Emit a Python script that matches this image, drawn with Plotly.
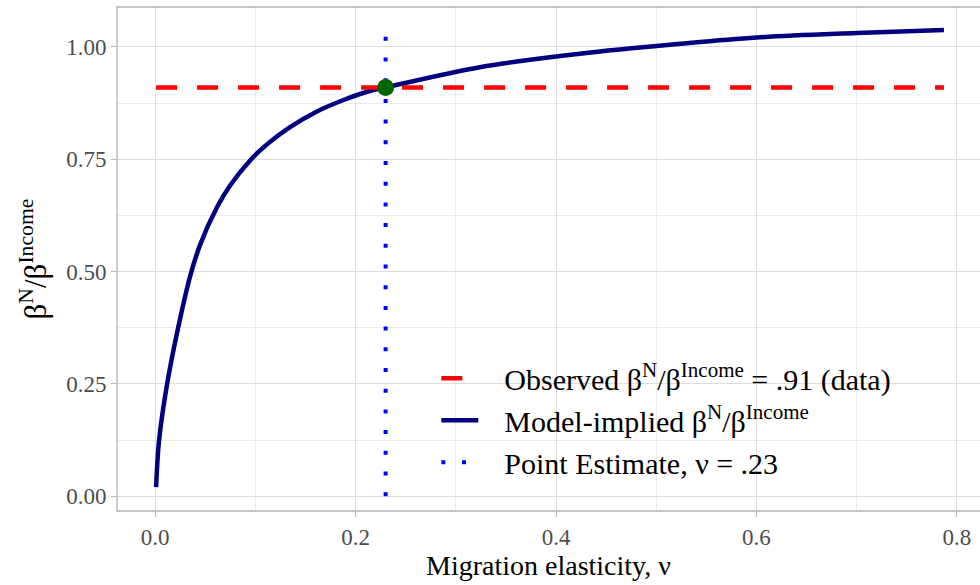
import plotly.graph_objects as go

# Model-implied ratio of coefficients along the migration elasticity
nu = [0.001, 0.004, 0.012, 0.023, 0.035, 0.045, 0.0615, 0.075, 0.095, 0.111,
      0.135, 0.161, 0.188, 0.214, 0.230, 0.324, 0.424, 0.524, 0.600, 0.700,
      0.787]
ratio = [0.020, 0.125, 0.250, 0.375, 0.490, 0.560, 0.642, 0.692, 0.748, 0.782,
         0.822, 0.856, 0.882, 0.902, 0.910, 0.955, 0.985, 1.007, 1.021, 1.031,
         1.038]

observed_ratio = 0.91
nu_estimate = 0.23

x_ticks = [0.0, 0.2, 0.4, 0.6, 0.8]
x_tick_text = ["0.0", "0.2", "0.4", "0.6", "0.8"]
y_ticks = [0.0, 0.25, 0.5, 0.75, 1.0]
y_tick_text = ["0.00", "0.25", "0.50", "0.75", "1.00"]

ratio_label = "β<sup>N</sup>/β<sup>Income</sup>"
FONT = "Liberation Serif"
GAP = "\u2002\u2009"  # space between legend key and label

fig = go.Figure()

fig.add_trace(go.Scatter(
    x=nu, y=ratio, mode="lines",
    line=dict(color="#000080", width=4.5, shape="spline", smoothing=1.0),
    name=GAP + "Model-implied " + ratio_label, legendrank=2,
))
fig.add_trace(go.Scatter(
    x=[nu[0], nu[-1]], y=[observed_ratio, observed_ratio], mode="lines",
    line=dict(color="#FF0000", width=4.5, dash="21px,20px"),
    name=GAP + "Observed " + ratio_label + " = .91 (data)", legendrank=1,
))
fig.add_trace(go.Scatter(
    x=[nu_estimate, nu_estimate], y=[0, max(ratio)], mode="lines",
    line=dict(color="#0000FF", width=4, dash="4px,16.7px"),
    name=GAP + "Point Estimate, ν = .23", legendrank=3,
))
fig.add_trace(go.Scatter(
    x=[nu_estimate], y=[observed_ratio], mode="markers",
    marker=dict(color="#006400", size=17),
    showlegend=False,
))

# panel border (right edge runs past the page)
fig.add_shape(type="rect", xref="paper", yref="paper",
              x0=0, x1=1.05, y0=0, y1=1,
              line=dict(color="#B3B3B3", width=1.3), layer="above")

grid = "#DEDEDE"
fig.update_xaxes(
    range=[-0.038, 0.823], tickvals=x_ticks, ticktext=x_tick_text,
    showgrid=True, gridcolor=grid, gridwidth=1.2, zeroline=False,
    minor=dict(dtick=0.1, tick0=0, showgrid=True, gridcolor="#EBEBEB",
               gridwidth=0.8, ticklen=0),
    ticks="outside", ticklen=5, tickcolor="#B3B3B3", tickwidth=1.2,
    tickfont=dict(family=FONT, size=23, color="#4D4D4D"),
    title=dict(text="Migration elasticity, ν", standoff=6,
               font=dict(family=FONT, size=28, color="#000000")),
)
fig.update_yaxes(
    range=[-0.033, 1.089], tickvals=y_ticks, ticktext=y_tick_text,
    showgrid=True, gridcolor=grid, gridwidth=1.2, zeroline=False,
    minor=dict(dtick=0.125, tick0=0, showgrid=True, gridcolor="#EBEBEB",
               gridwidth=0.8, ticklen=0),
    ticks="outside", ticklen=5, tickcolor="#B3B3B3", tickwidth=1.2,
    tickfont=dict(family=FONT, size=23, color="#4D4D4D"),
    title=dict(text=ratio_label, standoff=10,
               font=dict(family=FONT, size=31, color="#000000")),
)

fig.update_layout(
    width=980, height=585,
    margin=dict(l=117, r=0, t=7, b=74),
    paper_bgcolor="white", plot_bgcolor="white",
    font=dict(family=FONT),
    legend=dict(
        x=0.370, y=0.315, xanchor="left", yanchor="top",
        bgcolor="rgba(255,255,255,0)",
        font=dict(family=FONT, size=30, color="#000000"),
        itemwidth=37, tracegroupgap=0,
    ),
)

fig.write_html("out.html")
